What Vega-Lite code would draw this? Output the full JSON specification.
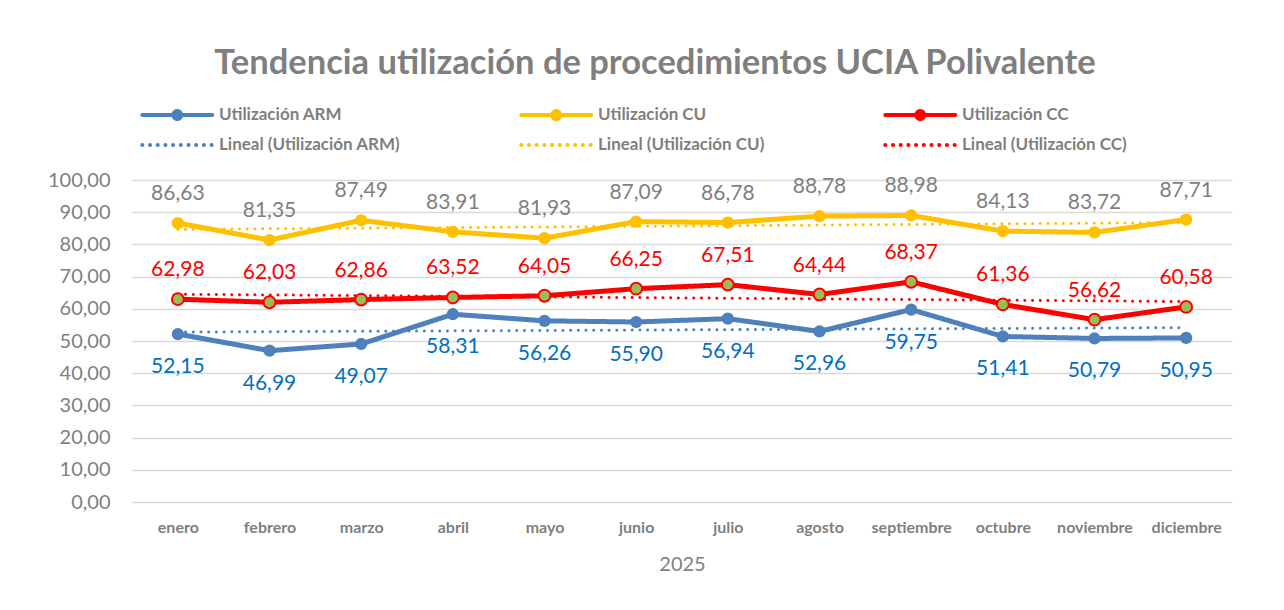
{
  "$schema": "https://vega.github.io/schema/vega-lite/v6.json",
  "width": 1100,
  "height": 322,
  "autosize": {"type": "none"},
  "padding": {"left": 132, "top": 180, "right": 52, "bottom": 108},
  "background": "white",
  "config": {
    "locale": {"number": {"decimal": ",", "thousands": ".", "grouping": [3], "currency": ["", " €"]}},
    "font": "Lato",
    "view": {"stroke": null}
  },
  "title": {
    "text": "Tendencia utilización de procedimientos UCIA Polivalente",
    "fontSize": 34.5,
    "fontWeight": "bold",
    "color": "#7F7F7F",
    "anchor": "middle",
    "frame": "group",
    "dx": -27,
    "offset": 23
  },
  "datasets": {
    "main": [
      {"mes": "enero", "serie": "Utilización ARM", "valor": 52.15},
      {"mes": "febrero", "serie": "Utilización ARM", "valor": 46.99},
      {"mes": "marzo", "serie": "Utilización ARM", "valor": 49.07},
      {"mes": "abril", "serie": "Utilización ARM", "valor": 58.31},
      {"mes": "mayo", "serie": "Utilización ARM", "valor": 56.26},
      {"mes": "junio", "serie": "Utilización ARM", "valor": 55.90},
      {"mes": "julio", "serie": "Utilización ARM", "valor": 56.94},
      {"mes": "agosto", "serie": "Utilización ARM", "valor": 52.96},
      {"mes": "septiembre", "serie": "Utilización ARM", "valor": 59.75},
      {"mes": "octubre", "serie": "Utilización ARM", "valor": 51.41},
      {"mes": "noviembre", "serie": "Utilización ARM", "valor": 50.79},
      {"mes": "diciembre", "serie": "Utilización ARM", "valor": 50.95},
      {"mes": "enero", "serie": "Utilización CU", "valor": 86.63},
      {"mes": "febrero", "serie": "Utilización CU", "valor": 81.35},
      {"mes": "marzo", "serie": "Utilización CU", "valor": 87.49},
      {"mes": "abril", "serie": "Utilización CU", "valor": 83.91},
      {"mes": "mayo", "serie": "Utilización CU", "valor": 81.93},
      {"mes": "junio", "serie": "Utilización CU", "valor": 87.09},
      {"mes": "julio", "serie": "Utilización CU", "valor": 86.78},
      {"mes": "agosto", "serie": "Utilización CU", "valor": 88.78},
      {"mes": "septiembre", "serie": "Utilización CU", "valor": 88.98},
      {"mes": "octubre", "serie": "Utilización CU", "valor": 84.13},
      {"mes": "noviembre", "serie": "Utilización CU", "valor": 83.72},
      {"mes": "diciembre", "serie": "Utilización CU", "valor": 87.71},
      {"mes": "enero", "serie": "Utilización CC", "valor": 62.98},
      {"mes": "febrero", "serie": "Utilización CC", "valor": 62.03},
      {"mes": "marzo", "serie": "Utilización CC", "valor": 62.86},
      {"mes": "abril", "serie": "Utilización CC", "valor": 63.52},
      {"mes": "mayo", "serie": "Utilización CC", "valor": 64.05},
      {"mes": "junio", "serie": "Utilización CC", "valor": 66.25},
      {"mes": "julio", "serie": "Utilización CC", "valor": 67.51},
      {"mes": "agosto", "serie": "Utilización CC", "valor": 64.44},
      {"mes": "septiembre", "serie": "Utilización CC", "valor": 68.37},
      {"mes": "octubre", "serie": "Utilización CC", "valor": 61.36},
      {"mes": "noviembre", "serie": "Utilización CC", "valor": 56.62},
      {"mes": "diciembre", "serie": "Utilización CC", "valor": 60.58}
    ],
    "trend": [
      {"mes": "enero", "serie": "Lineal (Utilización ARM)", "valor": 52.77},
      {"mes": "diciembre", "serie": "Lineal (Utilización ARM)", "valor": 54.14},
      {"mes": "enero", "serie": "Lineal (Utilización CU)", "valor": 84.65},
      {"mes": "diciembre", "serie": "Lineal (Utilización CU)", "valor": 86.77},
      {"mes": "enero", "serie": "Lineal (Utilización CC)", "valor": 64.51},
      {"mes": "diciembre", "serie": "Lineal (Utilización CC)", "valor": 62.25}
    ]
  },
  "encoding": {
    "x": {
      "field": "mes",
      "type": "ordinal",
      "sort": ["enero", "febrero", "marzo", "abril", "mayo", "junio", "julio", "agosto", "septiembre", "octubre", "noviembre", "diciembre"],
      "scale": {"type": "point", "padding": 0.5, "domain": ["enero", "febrero", "marzo", "abril", "mayo", "junio", "julio", "agosto", "septiembre", "octubre", "noviembre", "diciembre"]},
      "axis": {
        "title": "2025",
        "titleFontSize": 20,
        "titleFontWeight": "normal",
        "titleColor": "#7F7F7F",
        "titlePadding": 19,
        "labelAngle": 0,
        "labelFontSize": 16,
        "labelFontWeight": "bold",
        "labelColor": "#7F7F7F",
        "labelPadding": 17,
        "ticks": false,
        "domain": false,
        "grid": false
      }
    },
    "y": {
      "field": "valor",
      "type": "quantitative",
      "scale": {"domain": [0, 100], "nice": false, "zero": true},
      "axis": {
        "title": null,
        "values": [0, 10, 20, 30, 40, 50, 60, 70, 80, 90, 100],
        "format": ".2f",
        "domain": false,
        "ticks": false,
        "labelFontSize": 20,
        "labelColor": "#7F7F7F",
        "labelPadding": 22,
        "gridColor": "#D9D9D9",
        "gridWidth": 1.3
      }
    }
  },
  "layer": [
    {
      "data": {"name": "main"},
      "mark": {"type": "line", "strokeWidth": 5, "strokeCap": "round", "strokeJoin": "round"},
      "encoding": {
        "color": {
          "field": "serie",
          "type": "nominal",
          "scale": {
            "domain": ["Utilización ARM", "Utilización CU", "Utilización CC", "Lineal (Utilización ARM)", "Lineal (Utilización CU)", "Lineal (Utilización CC)"],
            "range": ["#4E80BD", "#FFC000", "#FF0000", "#4E80BD", "#FFC000", "#FF0000"]
          },
          "legend": {
            "orient": "none",
            "legendX": 8,
            "legendY": -76,
            "direction": "horizontal",
            "columns": 3,
            "title": null,
            "labelFontSize": 17,
            "labelFontWeight": "bold",
            "labelColor": "#7F7F7F",
            "labelLimit": 400,
            "symbolType": "M-1,0H7",
            "symbolSize": 306,
            "symbolStrokeWidth": 4,
            "labelOffset": 57,
            "columnPadding": 112,
            "rowPadding": 7,
            "gridAlign": "each",
            "encode": {
              "symbols": {
                "update": {
                  "strokeCap": {"value": "round"},
                  "shape": [
                    {"test": "indexof(datum.value, 'Lineal') < 0", "value": "M-1,0H7M3.45,0A0.45,0.45 0 1,1 2.55,0A0.45,0.45 0 1,1 3.45,0Z"},
                    {"value": "M-1,0H7"}
                  ],
                  "fill": [
                    {"test": "datum.value === 'Utilización ARM'", "value": "#4E80BD"},
                    {"test": "datum.value === 'Utilización CU'", "value": "#FFC000"},
                    {"test": "datum.value === 'Utilización CC'", "value": "#9BBB59"},
                    {"value": "transparent"}
                  ],
                  "fillOpacity": {"value": 1}
                }
              }
            }
          }
        },
        "strokeDash": {
          "field": "serie",
          "type": "nominal",
          "scale": {
            "domain": ["Utilización ARM", "Utilización CU", "Utilización CC", "Lineal (Utilización ARM)", "Lineal (Utilización CU)", "Lineal (Utilización CC)"],
            "range": [[1, 0], [1, 0], [1, 0], [0.1, 7.6], [0.1, 7.6], [0.1, 7.6]]
          }
        }
      }
    },
    {
      "data": {"name": "trend"},
      "mark": {"type": "line", "strokeWidth": 3, "strokeCap": "round"},
      "encoding": {
        "color": {"field": "serie", "type": "nominal"},
        "strokeDash": {"field": "serie", "type": "nominal"}
      }
    },
    {
      "data": {"name": "main"},
      "transform": [{"filter": "datum.serie !== 'Utilización CC'"}],
      "mark": {"type": "point", "filled": true, "size": 150, "opacity": 1},
      "encoding": {
        "color": {"field": "serie", "type": "nominal"}
      }
    },
    {
      "data": {"name": "main"},
      "transform": [{"filter": "datum.serie === 'Utilización CC'"}],
      "mark": {"type": "point", "filled": true, "size": 140, "fill": "#9BBB59", "stroke": "#FF0000", "strokeWidth": 2, "opacity": 1}
    },
    {
      "data": {"name": "main"},
      "transform": [{"filter": "datum.serie === 'Utilización CU'"}],
      "mark": {"type": "text", "dy": -29, "fontSize": 21, "color": "#7F7F7F"},
      "encoding": {"text": {"field": "valor", "type": "quantitative", "format": ".2f"}}
    },
    {
      "data": {"name": "main"},
      "transform": [{"filter": "datum.serie === 'Utilización CC'"}],
      "mark": {"type": "text", "dy": -29, "fontSize": 21, "color": "#FF0000"},
      "encoding": {"text": {"field": "valor", "type": "quantitative", "format": ".2f"}}
    },
    {
      "data": {"name": "main"},
      "transform": [{"filter": "datum.serie === 'Utilización ARM'"}],
      "mark": {"type": "text", "dy": 33, "fontSize": 21, "color": "#0070C0"},
      "encoding": {"text": {"field": "valor", "type": "quantitative", "format": ".2f"}}
    }
  ]
}
